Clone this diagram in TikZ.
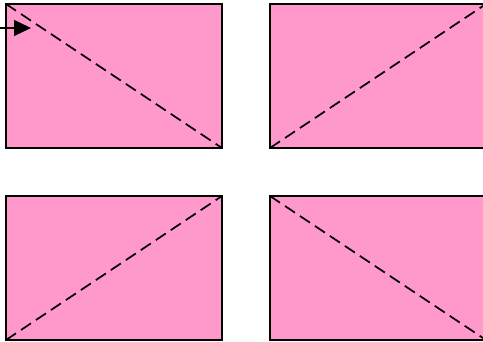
\documentclass[tikz,border=0pt]{standalone}
\usetikzlibrary{arrows.meta}
\definecolor{pinkfill}{RGB}{255,153,204}
\begin{document}
\begin{tikzpicture}[x=1pt,y=1pt,
  panel/.style={draw=black,fill=pinkfill,line width=1.5pt,minimum width=216pt,minimum height=144pt,inner sep=0pt,outer sep=0pt,anchor=north west},
  diag/.style={line width=1.7pt,dash pattern=on 12pt off 6pt}]
\useasboundingbox (0,0) rectangle (483,342);
\clip (0,0) rectangle (483,342);
\node[panel] (tl) at (6,338) {};
\node[panel] (tr) at (270,338) {};
\node[panel] (bl) at (6,146) {};
\node[panel] (br) at (270,146) {};
\draw[diag] (tl.north west) -- (tl.south east);
\draw[diag] (tr.south west) -- (tr.north east);
\draw[diag] (bl.south west) -- (bl.north east);
\draw[diag] (br.north west) -- (br.south east);
\coordinate (start) at (0,314);
\coordinate (tip) at (31,314);
\draw[line width=1.3pt,-{Triangle[length=17pt,width=16pt]}] (start) -- (tip);
\end{tikzpicture}
\end{document}
